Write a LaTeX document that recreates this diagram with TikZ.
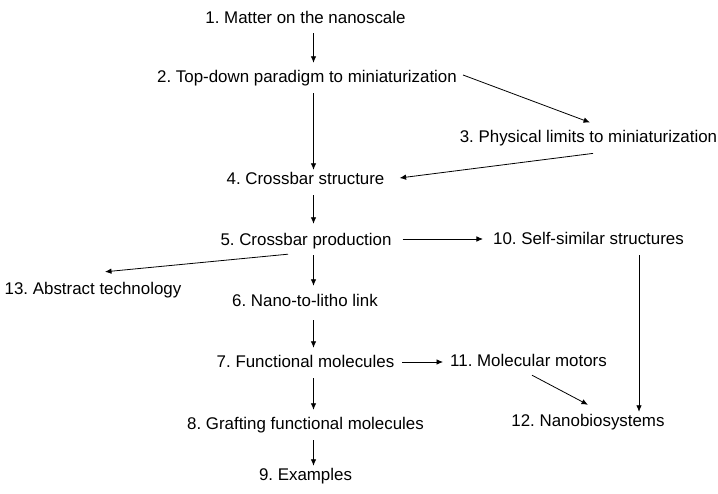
\documentclass[tikz,border=0pt]{standalone}
\usepackage{fontspec}
\setmainfont{Liberation Sans}
\usetikzlibrary{calc,arrows.meta}
\frenchspacing
\begin{document}
\begin{tikzpicture}[x=1pt,y=-1pt,
  lbl/.style={inner sep=0pt,text height=12pt,text depth=0pt,font=\fontsize{16.9}{20}\selectfont},
  arr/.style={line width=0.8pt,-{Latex[length=6.5pt,width=5.5pt]}}]
\path[use as bounding box,fill=white] (0,0) rectangle (718,494);
\coordinate (ax) at (313.5,0);
\node[lbl] (n1) at (305.5,17.7) {1. Matter on the nanoscale};
\node[lbl] (n2) at (307,77) {2. Top-down paradigm to miniaturization};
\node[lbl] (n3) at (588.5,136.7) {3. Physical limits to miniaturization};
\node[lbl] (n4) at (305.5,179) {4. Crossbar structure};
\node[lbl] (n5) at (306,240) {5. Crossbar production};
\node[lbl] (n10) at (588.5,239) {10. Self-similar structures};
\node[lbl] (n13) at (93,289) {13. Abstract technology};
\node[lbl] (n6) at (305,301) {6. Nano-to-litho link};
\node[lbl] (n7) at (305.5,362) {7. Functional molecules};
\node[lbl] (n11) at (528.5,361) {11. Molecular motors};
\node[lbl] (n8) at (305.5,423) {8. Grafting functional molecules};
\node[lbl] (n9) at (305.5,474) {9. Examples};
\node[lbl] (n12) at (588,421) {12. Nanobiosystems};
% vertical chain
\draw[arr] ($(n1.south -| ax)+(0,9.5)$) -- ($(n2.north -| ax)+(0,-8)$);
\draw[arr] ($(n2.south -| ax)+(0,10)$) -- ($(n4.north -| ax)+(0,-3)$);
\draw[arr] ($(n4.south -| ax)+(0,10)$) -- ($(n5.north -| ax)+(0,-10)$);
\draw[arr] ($(n5.south -| ax)+(0,9)$) -- ($(n6.north -| ax)+(0,-9)$);
\draw[arr] ($(n6.south -| ax)+(0,13)$) -- ($(n7.north -| ax)+(0,-8)$);
\draw[arr] ($(n7.south -| ax)+(0,10)$) -- ($(n8.north -| ax)+(0,-7)$);
\draw[arr] ($(n8.south -| ax)+(0,11)$) -- ($(n9.north -| ax)+(0,-2)$);
% horizontals
\draw[arr] ($(n5.east)+(11,-1)$) -- ($(n10.west)+(-10,0)$);
\draw[arr] ($(n7.east)+(8,0)$) -- ($(n11.west)+(-7,1)$);
% diagonals
\draw[arr] ($(n2.east)+(6,-2)$) -- ($(n3.north)+(1.5,-8)$);
\draw[arr] ($(n3.south)+(4.5,10.5)$) -- ($(n4.east)+(15,-1)$);
\draw[arr] ($(n5.south)+(-18,8)$) -- ($(n13.north)+(12,-11)$);
\draw[arr] ($(n11.south)+(3.5,8)$) -- ($(n12.north)+(0,-10)$);
\draw[arr] ($(n10.south)+(50.5,10)$) -- ($(n12.north)+(51,-3)$);
\end{tikzpicture}
\end{document}
